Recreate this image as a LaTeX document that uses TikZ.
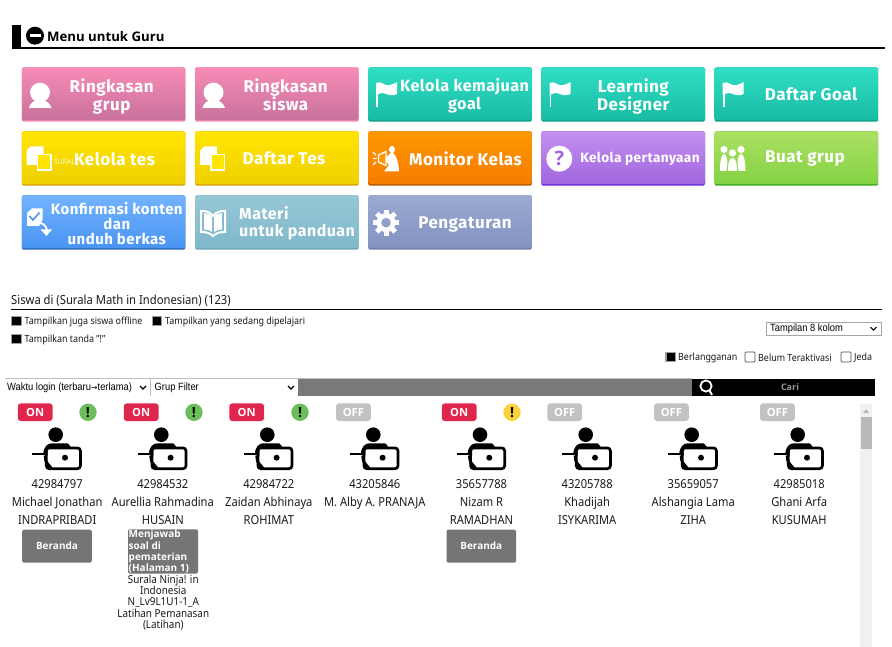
\documentclass[tikz,border=0pt]{standalone}
\usepackage{fontspec}
\setmainfont{Noto Sans}[FakeStretch=0.9]
\newfontfamily\btnf{Fira Sans}[LetterSpace=3]
\newfontfamily\headf{Open Sans}
\newfontfamily\self{Liberation Sans}[FakeStretch=0.89]
\newfontfamily\arrf{DejaVu Sans}
\definecolor{offg}{HTML}{C2C2C2}
\definecolor{onr}{HTML}{E0264C}
\definecolor{gboxc}{HTML}{757575}
\definecolor{txtc}{HTML}{1A1A1A}
\definecolor{pinkt}{HTML}{F78BB5}\definecolor{pinkb}{HTML}{C8729D}\definecolor{pinke}{HTML}{F08CB8}
\definecolor{tealt}{HTML}{2FDFC5}\definecolor{tealb}{HTML}{19BBA3}\definecolor{teale}{HTML}{0F9F8A}
\definecolor{yelt}{HTML}{FFE500}\definecolor{yelb}{HTML}{EFD000}\definecolor{yele}{HTML}{D9A400}
\definecolor{orat}{HTML}{FF9800}\definecolor{orab}{HTML}{F57C00}\definecolor{orae}{HTML}{B85A00}
\definecolor{purt}{HTML}{C490EE}\definecolor{purb}{HTML}{A065E0}\definecolor{pure}{HTML}{6A2EE0}
\definecolor{gret}{HTML}{ABE063}\definecolor{greb}{HTML}{84D344}\definecolor{gree}{HTML}{3DA820}
\definecolor{blut}{HTML}{72B3FF}\definecolor{blub}{HTML}{4A94F2}\definecolor{blue2}{HTML}{2A6BC0}
\definecolor{lbt}{HTML}{97C7D6}\definecolor{lbb}{HTML}{7FB8CA}\definecolor{lbe}{HTML}{6FA5B8}
\definecolor{slt}{HTML}{9CAAD2}\definecolor{slb}{HTML}{8293C0}\definecolor{sle}{HTML}{6F80AC}
\definecolor{okg}{HTML}{6CBE5A}\definecolor{warny}{HTML}{FBD13C}
\tikzset{
  btn/.style={rounded corners=1.5pt},
  btnt/.style={text=white,font=\btnf\bfseries\fontsize{17}{18}\selectfont,align=center,inner sep=0pt},
  lab/.style={text=txtc,font=\fontsize{12.4}{13}\selectfont,inner sep=0pt,anchor=base},
  smalll/.style={text=txtc,font=\fontsize{9.9}{12}\selectfont,inner sep=0pt,anchor=west},
  subl/.style={text=txtc,font=\fontsize{11}{11.25}\selectfont,inner sep=0pt,align=center},
  pill/.style={rounded corners=3pt,minimum width=34.8pt,minimum height=17.6pt,inner sep=0pt,text=white,font=\headf\bfseries\fontsize{11.2}{12}\selectfont},
  warnc/.style={circle,minimum size=17.4pt,inner sep=0pt,text=black,font=\headf\bfseries\fontsize{14}{14}\selectfont},
  graybox/.style={rounded corners=2pt,fill=gboxc,inner sep=0pt,minimum height=33pt,minimum width=69.6pt,text=white,font=\headf\bfseries\fontsize{10}{12}\selectfont},
  seltxt/.style={inner sep=0pt,anchor=west,text=black,font=\self\fontsize{10.5}{12}\selectfont},
}
\newcommand{\mybtn}[6]{%
  \path[btn,fill=#6] (#2,#3) rectangle ++(163.6,54.4);
  \path[btn,top color=#4,bottom color=#5] (#2,#3) rectangle ++(163.6,52.8);
  \coordinate (#1) at (#2,#3);
}
\newcommand{\personicon}[2]{%
  \begin{scope}[shift={(#1,#2)}]
    \fill (0,0) circle (7.3);
    \fill (-12.4,20) .. controls (-12.4,12) and (-8,8.6) .. (-4,8.6) -- (12,8.6) -- (15,12) -- (-8,14) -- (-8,21) -- cycle;
    \draw[line width=2.7pt,rounded corners=3pt] (-9.4,13.2) rectangle (24.7,34);
    \fill (-8,27) -- (-10,21) -- (-12,21) .. controls (-12,27) and (-9,33) .. (-5,35.3) -- (-3,33) -- cycle;
    \draw[line width=2pt] (-23.4,19.3) -- (-9,19.3);
    \fill (9.3,23) circle (3);
  \end{scope}}
% n headx pillx pillcolour pilltext id first last
\newcommand{\student}[8]{%
  \node[pill,fill=#4] (pill#1) at (#3,412.2) {#5};
  \personicon{#2}{434.7}
  \node[lab] (id#1) at (#2+1.5,488.6) {#6};
  \node[lab] (first#1) at (#2+1.5,506.6) {#7};
  \node[lab] (last#1) at (#2+1.5,524.6) {#8};
}
\newcommand{\warn}[3]{\node[warnc,fill=#3] (warn#1) at (#2,412.3) {!};}
\newcommand{\cbon}[2]{\draw[draw=gray!75,fill=black,line width=1.1pt] (#1-4.8,#2-4.8) rectangle (#1+4.8,#2+4.8);}
\newcommand{\cboff}[2]{\draw[draw=black!70,fill=white,line width=.7pt,rounded corners=1pt] (#1-5,#2-5) rectangle (#1+5,#2+5);}
\newcommand{\chev}[2]{\draw[line width=1.1pt] (#1-3,#2-1.5) -- (#1,#2+1.5) -- (#1+3,#2-1.5);}
\newcommand{\flagicon}[1]{%
  \fill[white] (#1,83) -- (#1+1.8,83) -- (#1+1.8,107.5) -- (#1,107.5) -- cycle;
  \fill[white] (#1,83) .. controls (#1+6,80) and (#1+8,87) .. (#1+14,85) .. controls (#1+17,84.5) and (#1+19,83) .. (#1+21,82) -- (#1+21,94) .. controls (#1+16,97) and (#1+11,94) .. (#1+7,93) .. controls (#1+4,93) and (#1+2,94) .. (#1,95) -- cycle;
}
\newcommand{\usericon}[1]{%
  \fill[white] (#1,92.5) ellipse (10 and 9.8);
  \fill[white] (#1-11,108) .. controls (#1-10,103) and (#1-6,101) .. (#1-3,100) -- (#1+3,100) .. controls (#1+6,101) and (#1+10,103) .. (#1+11.5,108) -- cycle;
}
\newcommand{\testicon}[2]{%
  \fill[white] (#1+4,146.5) -- (#1+17,146.5) -- (#1+17,165) -- (#1,165) -- (#1,150.5) -- cycle;
  \draw[white,line width=1.6pt,fill=#2] (#1+11,154.5) rectangle (#1+24.5,170);
}
\begin{document}
\begin{tikzpicture}[x=1pt,y=-1pt]
\useasboundingbox (0,0) rectangle (892,647);
\fill[white] (0,0) rectangle (892,647);

% header
\fill (12,25.3) rectangle (21,49);
\draw[line width=1.7pt] (21,48) -- (885,48);
\fill (35,35.7) circle (9);
\fill[white] (29.5,34.5) rectangle (40.5,37);
\node[inner sep=0pt,anchor=west,font=\headf\bfseries\fontsize{13.2}{15}\selectfont] (menu) at (47,37) {Menu untuk Guru};

% buttons
\mybtn{b1}{21.8}{67.3}{pinkt}{pinkb}{pinke}
\mybtn{b2}{195}{67.3}{pinkt}{pinkb}{pinke}
\mybtn{b3}{368.2}{67.3}{tealt}{tealb}{teale}
\mybtn{b4}{541.4}{67.3}{tealt}{tealb}{teale}
\mybtn{b5}{714.6}{67.3}{tealt}{tealb}{teale}
\mybtn{b6}{21.8}{131.3}{yelt}{yelb}{yele}
\mybtn{b7}{195}{131.3}{yelt}{yelb}{yele}
\mybtn{b8}{368.2}{131.3}{orat}{orab}{orae}
\mybtn{b9}{541.4}{131.3}{purt}{purb}{pure}
\mybtn{b10}{714.6}{131.3}{gret}{greb}{gree}
\mybtn{b11}{21.8}{195.3}{blut}{blub}{blue2}
\mybtn{b12}{195}{195.3}{lbt}{lbb}{lbe}
\mybtn{b13}{368.2}{195.3}{slt}{slb}{sle}

% button icons
\usericon{40}
\usericon{213.5}
\flagicon{376}
\flagicon{549.5}
\flagicon{722.7}
\testicon{26.5}{yelt}
\testicon{200}{yelt}
% megaphone
\fill[white] (384,159) -- (391,153) .. controls (387,150) and (390,146) .. (392,146) .. controls (394,146) and (397,150) .. (393,153) .. controls (397,156) and (399,165) .. (399,171.5) -- (384,171.5) -- (389,165) -- cycle;
\draw[white,line width=1.3pt,fill=orat] (378.5,155) -- (386,151.5) -- (386,165.5) -- (378.5,162) -- cycle;
\draw[white,line width=1.2pt] (373,152) -- (376,155) (373,158.5) -- (376.5,158.5) (373,165) -- (376,162);
% question
\node[circle,fill=white,minimum size=26pt,inner sep=0pt,text=purb,font=\headf\bfseries\fontsize{20}{20}\selectfont] (qmark) at (559.3,158.7) {?};
% people
\fill[white] (724,149.5) circle (3.6) (741,149.5) circle (3.6) (732.5,153) circle (3.6);
\fill[white] (720,171) .. controls (720,162) and (721,154) .. (724,154) .. controls (726,154) and (727,158) .. (727.5,162) -- (726.5,171) -- cycle;
\fill[white] (728,171) .. controls (728,164) and (729,158) .. (732.5,158) .. controls (736,158) and (737,164) .. (737,171) -- cycle;
\fill[white] (738.5,171) -- (737.5,162) .. controls (738,158) and (739,154) .. (741,154) .. controls (744,154) and (745.5,162) .. (745.5,171) -- cycle;
% doc with check, arrow
\fill[white] (32,208.5) -- (42.5,208.5) -- (42.5,220) -- (39,226) -- (27,226) -- (27,213) -- cycle;
\draw[blub,line width=1.6pt] (29.5,216) -- (33,220) -- (39.5,212.5);
\draw[white,line width=1.8pt] (38,223.5) .. controls (42,222) and (46,225) .. (47,230);
\fill[white] (40.5,229.5) -- (52,229.5) -- (46.5,236) -- cycle;
% book
\draw[white,line width=2pt,fill=lbb] (213,216) .. controls (210,212) and (205,210.5) .. (201,211) -- (201,232) .. controls (205,231.5) and (210,233) .. (213,236) .. controls (216,233) and (221,231.5) .. (225,232) -- (225,211) .. controls (221,210.5) and (216,212) .. (213,216) -- cycle;
\fill[white] (204,213) .. controls (207,213) and (210,214) .. (212,217) -- (212,232) .. controls (210,230) and (207,229.5) .. (204,229.5) -- cycle;
\fill[white] (222,213) .. controls (219,213) and (216,214) .. (214,217) -- (214,232) .. controls (216,230) and (219,229.5) .. (222,229.5) -- cycle;
% gear
\fill[white] (386,222.7) circle (9.5);
\foreach \a in {0,45,...,315}{\draw[white,line width=5pt] (386,222.7) -- ++(\a:13);}
\fill[slt!50!slb] (386,222.7) circle (4.8);

% button texts
\node[btnt] (t1) at (111.7,96.6) {Ringkasan\\grup};
\node[btnt] (t2) at (285.7,95.2) {Ringkasan\\siswa};
\node[btnt,font=\btnf\bfseries\fontsize{16.2}{18}\selectfont] (t3) at (464.6,95.5) {Kelola kemajuan\\goal};
\node[btnt] (t4) at (633.3,96.2) {Learning\\Designer};
\node[btnt] (t5) at (811,93.8) {Daftar Goal};
\node[inner sep=0pt,anchor=east,text=white,opacity=.85,font=\fontsize{7.5}{7}\selectfont] (sural) at (75,161.5) {SURAL};
\node[btnt] (t6) at (114.5,158.8) {Kelola tes};
\node[btnt] (t7) at (284,157.8) {Daftar Tes};
\node[btnt] (t8) at (465.5,158.8) {Monitor Kelas};
\node[btnt,font=\btnf\bfseries\fontsize{13.6}{15}\selectfont] (t9) at (640,159.2) {Kelola pertanyaan};
\node[btnt] (t10) at (805,158.6) {Buat grup};
\node[btnt,font=\btnf\bfseries\fontsize{15}{14.6}\selectfont] (t11) at (116.8,223.6) {Konfirmasi konten\\dan\\unduh berkas};
\node[btnt,align=left,anchor=west,font=\btnf\bfseries\fontsize{16}{17}\selectfont] (t12) at (239,222.8) {Materi\\untuk panduan};
\node[btnt] (t13) at (465,224) {Pengaturan};

% filter area
\node[inner sep=0pt,anchor=west,text=txtc,font=\fontsize{12.5}{13}\selectfont] (siswa) at (11,300.8) {Siswa di (Surala Math in Indonesian) (123)};
\draw[line width=1.2pt] (11,309.8) -- (882,309.8);
\cbon{16.5}{321}
\node[smalll] (c1) at (24.5,321.5) {Tampilkan juga siswa offline};
\cbon{157}{321}
\node[smalll] (c2) at (165,321.5) {Tampilkan yang sedang dipelajari};
\cbon{16.5}{339}
\node[smalll] (c3) at (24.5,339.7) {Tampilkan tanda "!"};
\draw[gray!70,line width=.8pt,fill=white] (766,322.3) rectangle (881.5,335);
\node[seltxt] (kolom) at (770,329) {Tampilan 8 kolom};
\chev{873.5}{328.7}
\cbon{670.8}{357}
\node[smalll] (c4) at (678,357.5) {Berlangganan};
\cboff{750}{357}
\node[smalll] (c5) at (758,357.5) {Belum Teraktivasi};
\cboff{846}{357}
\node[smalll] (c6) at (854,357.5) {Jeda};

% filter bar
\fill[gray!50] (5,378) rectangle (692,396);
\fill[gray!95!black] (298,379) rectangle (692,396);
\fill[white] (5,379.3) rectangle (150,396);
\fill[white] (151.3,379.3) rectangle (297.5,396);
\fill[black] (692.3,378.7) rectangle (874.7,396);
\node[seltxt] (sort) at (7,388) {Waktu login (terbaru{\arrf\fontsize{8}{8}\selectfont →}terlama)};
\chev{143}{387.5}
\node[seltxt] (grup) at (154.5,388) {Grup Filter};
\chev{291}{387.5}
\begin{scope}
\clip (692.3,378.7) rectangle (874.7,396);
\draw[white,line width=1.8pt] (706,386) circle (5.6);
\draw[white,line width=2pt] (709.5,390.5) -- (712,395);
\end{scope}
\node[inner sep=0pt,text=gray!80,font=\headf\bfseries\fontsize{9}{10}\selectfont] (cari) at (790,387.3) {Cari};

% scrollbar
\fill[gray!12] (860,404) rectangle (872,647);
\fill[gray!55] (861,417) rectangle (871.5,449);
\fill[gray!60] (866,409.5) -- (869,413) -- (863,413) -- cycle;

% students
\student{1}{55.7}{35.2}{onr}{ON}{42984797}{Michael Jonathan}{INDRAPRIBADI}
\student{2}{161.3}{141.2}{onr}{ON}{42984532}{Aurellia Rahmadina}{HUSAIN}
\student{3}{267.3}{246.7}{onr}{ON}{42984722}{Zaidan Abhinaya}{ROHIMAT}
\student{4}{373.3}{353.4}{offg}{OFF}{43205846}{M. Alby A. PRANAJA}{}
\student{5}{480}{459.2}{onr}{ON}{35657788}{Nizam R}{RAMADHAN}
\student{6}{585.7}{564.7}{offg}{OFF}{43205788}{Khadijah}{ISYKARIMA}
\student{7}{691.7}{671.4}{offg}{OFF}{35659057}{Alshangia Lama}{ZIHA}
\student{8}{797.7}{777.4}{offg}{OFF}{42985018}{Ghani Arfa}{KUSUMAH}
\warn{1}{88}{okg}
\warn{2}{194}{okg}
\warn{3}{300}{okg}
\warn{5}{512}{warny}

\node[graybox] (act1) at (57,546.2) {Beranda};
\node[graybox] (act5) at (481.3,546.2) {Beranda};
\path[rounded corners=2pt,fill=gboxc] (128,529.3) rectangle (198,573.7);
\coordinate (act2) at (128,529.3);
\node[inner sep=0pt,anchor=north west,text=white,align=left,font=\headf\bfseries\fontsize{10}{11.3}\selectfont] (act2t) at (128.5,530) {Menjawab\\soal di\\pematerian\\(Halaman 1)};
\node[subl,anchor=north] (sub2) at (163.3,574.8) {Surala Ninja! in\\Indonesia\\N\_Lv9L1U1-1\_A\\Latihan Pemanasan\\(Latihan)};
\end{tikzpicture}
\end{document}
